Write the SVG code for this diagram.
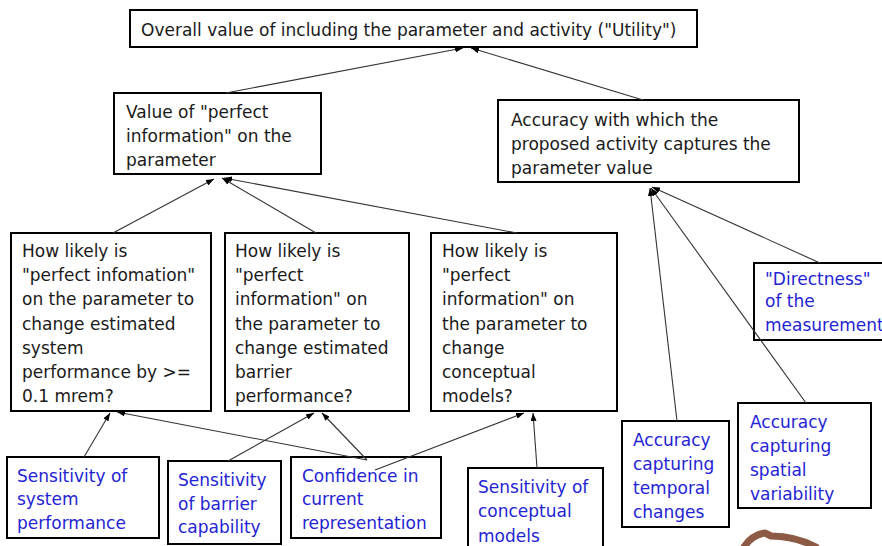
<svg xmlns="http://www.w3.org/2000/svg" width="882" height="546" viewBox="0 0 882 546">
<defs>
<style>
.box{fill:#fff;stroke:#000;stroke-width:2}
.t{font-family:"DejaVu Sans","Liberation Sans",Arial,sans-serif;font-size:17px;fill:#1a1a1a}
.b{fill:#2424d4}
.c{stroke:#333;stroke-width:1.1;fill:none;marker-end:url(#ah)}
</style>
<marker id="ah" markerUnits="userSpaceOnUse" markerWidth="8" markerHeight="6" refX="8" refY="3" orient="auto">
<path d="M0,0 L8,3 L0,6 z" fill="#000"/>
</marker>
</defs>
<rect width="882" height="546" fill="#fff"/>

<g id="top">
<rect class="box" x="130" y="10" width="567" height="37"/>
<text class="t" x="141" y="36">Overall value of including the parameter and activity ("Utility")</text>
</g>

<g id="value">
<rect class="box" x="114" y="93" width="207" height="81"/>
<text class="t"><tspan x="126" y="118">Value of "perfect</tspan><tspan x="126" y="142">information" on the</tspan><tspan x="126" y="166">parameter</tspan></text>
</g>

<g id="accuracy">
<rect class="box" x="498" y="100" width="301" height="82"/>
<text class="t"><tspan x="511" y="126">Accuracy with which the</tspan><tspan x="511" y="150">proposed activity captures the</tspan><tspan x="511" y="174">parameter value</tspan></text>
</g>

<g id="q1">
<rect class="box" x="11" y="233" width="200" height="178"/>
<text class="t"><tspan x="22" y="257">How likely is</tspan><tspan x="22" y="281">"perfect infomation"</tspan><tspan x="22" y="305">on the parameter to</tspan><tspan x="22" y="330">change estimated</tspan><tspan x="22" y="354">system</tspan><tspan x="22" y="378">performance by &gt;=</tspan><tspan x="22" y="402">0.1 mrem?</tspan></text>
</g>

<g id="q2">
<rect class="box" x="225" y="233" width="184" height="178"/>
<text class="t"><tspan x="235" y="257">How likely is</tspan><tspan x="235" y="281">"perfect</tspan><tspan x="235" y="305">information" on</tspan><tspan x="235" y="330">the parameter to</tspan><tspan x="235" y="354">change estimated</tspan><tspan x="235" y="378">barrier</tspan><tspan x="235" y="402">performance?</tspan></text>
</g>

<g id="q3">
<rect class="box" x="431" y="233" width="186" height="178"/>
<text class="t"><tspan x="442" y="257">How likely is</tspan><tspan x="442" y="281">"perfect</tspan><tspan x="442" y="305">information" on</tspan><tspan x="442" y="330">the parameter to</tspan><tspan x="442" y="354">change</tspan><tspan x="442" y="378">conceptual</tspan><tspan x="442" y="402">models?</tspan></text>
</g>

<g id="directness">
<rect class="box" x="754" y="263" width="130" height="77"/>
<text class="t b"><tspan x="765" y="285">"Directness"</tspan><tspan x="765" y="307">of the</tspan><tspan x="765" y="331">measurement</tspan></text>
</g>

<g id="sens-system">
<rect class="box" x="7" y="457" width="152" height="81"/>
<text class="t b"><tspan x="17" y="482">Sensitivity of</tspan><tspan x="17" y="505">system</tspan><tspan x="17" y="529">performance</tspan></text>
</g>

<g id="sens-barrier">
<rect class="box" x="168" y="461" width="113" height="83"/>
<text class="t b"><tspan x="178" y="486">Sensitivity</tspan><tspan x="178" y="510">of barrier</tspan><tspan x="178" y="533">capability</tspan></text>
</g>

<g id="confidence">
<rect class="box" x="291" y="457" width="150" height="81"/>
<text class="t b"><tspan x="302" y="482">Confidence in</tspan><tspan x="302" y="505">current</tspan><tspan x="302" y="529">representation</tspan></text>
</g>

<g id="sens-conceptual">
<rect class="box" x="468" y="468" width="135" height="90"/>
<text class="t b"><tspan x="478" y="493">Sensitivity of</tspan><tspan x="478" y="517">conceptual</tspan><tspan x="478" y="542">models</tspan></text>
</g>

<g id="temporal">
<rect class="box" x="622" y="421" width="107" height="106"/>
<text class="t b"><tspan x="633" y="446">Accuracy</tspan><tspan x="633" y="470">capturing</tspan><tspan x="633" y="494">temporal</tspan><tspan x="633" y="518">changes</tspan></text>
</g>

<g id="spatial">
<rect class="box" x="738" y="403" width="133" height="105"/>
<text class="t b"><tspan x="750" y="428">Accuracy</tspan><tspan x="750" y="452">capturing</tspan><tspan x="750" y="476">spatial</tspan><tspan x="750" y="500">variability</tspan></text>
</g>

<g id="connectors">
<line class="c" x1="226" y1="93" x2="463" y2="48"/>
<line class="c" x1="643" y1="100" x2="471" y2="48"/>
<line class="c" x1="113" y1="233" x2="214" y2="179"/>
<line class="c" x1="316" y1="233" x2="222" y2="178"/>
<line class="c" x1="517" y1="233" x2="224" y2="178"/>
<line class="c" x1="677" y1="421" x2="650" y2="188"/>
<line class="c" x1="806" y1="403" x2="651" y2="188"/>
<line class="c" x1="820" y1="263" x2="652" y2="187"/>
<line class="c" x1="84" y1="457" x2="110" y2="413"/>
<line class="c" x1="367" y1="460" x2="117" y2="412"/>
<line class="c" x1="228" y1="461" x2="314" y2="413"/>
<line class="c" x1="367" y1="460" x2="322" y2="413"/>
<line class="c" x1="375" y1="470" x2="524" y2="413"/>
<line class="c" x1="537" y1="468" x2="533" y2="413"/>
</g>

<path d="M744,547 Q752,535 765,533 L771,536 Q795,536 816,547" fill="none" stroke="#8d5a45" stroke-width="7" stroke-linecap="round" stroke-linejoin="round"/>
</svg>
